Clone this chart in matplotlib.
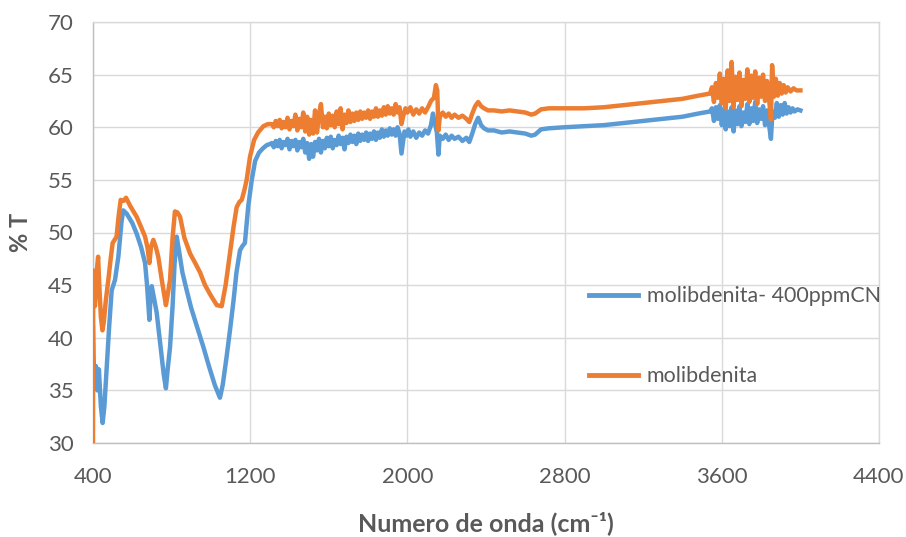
import matplotlib
matplotlib.use("Agg")
import matplotlib.pyplot as plt

# ---------------- data ----------------
blue_label = "molibdenita- 400ppmCN"
orange_label = "molibdenita"

blue_x = [400, 403, 408, 415, 422, 430, 440, 449, 458, 470, 482, 495, 512, 529, 545, 554, 571, 600, 622, 645,
          665, 675, 682, 687, 693, 699, 710, 724, 745, 760, 771, 780, 792, 805, 815, 826, 840, 855, 877, 900,
          930, 962, 990, 1020, 1046, 1060, 1080, 1097, 1115, 1130, 1148, 1160, 1173, 1190, 1208, 1225, 1245, 1265, 1284, 1300,
          1310, 1320, 1330, 1340, 1350, 1360, 1370, 1380, 1390, 1400, 1410, 1420, 1430, 1440, 1450, 1460, 1470, 1480, 1490, 1500,
          1510, 1520, 1530, 1540, 1550, 1560, 1570, 1580, 1590, 1600, 1610, 1620, 1630, 1640, 1650, 1660, 1670, 1680, 1690, 1700,
          1710, 1720, 1730, 1740, 1750, 1760, 1770, 1780, 1790, 1800, 1810, 1820, 1830, 1840, 1850, 1860, 1870, 1880, 1890, 1900,
          1910, 1920, 1930, 1940, 1950, 1960, 1970, 1975, 1985, 1995, 2005, 2015, 2030, 2045, 2060, 2075, 2090, 2105, 2120, 2130,
          2140, 2150, 2158, 2165, 2180, 2195, 2210, 2225, 2240, 2260, 2280, 2300, 2315, 2330, 2345, 2360, 2375, 2390, 2410, 2440,
          2480, 2520, 2560, 2600, 2630, 2650, 2680, 2720, 2800, 2900, 3000, 3100, 3200, 3300, 3400, 3480, 3540,
          3550, 3560, 3570, 3580, 3590, 3600, 3610, 3620, 3630, 3640, 3650, 3660, 3670, 3680, 3690, 3700, 3710, 3720, 3730, 3740,
          3750, 3760, 3770, 3780, 3790, 3800, 3810, 3820, 3830, 3840, 3850, 3858, 3870, 3880, 3890, 3900, 3910, 3920, 3930, 3940,
          3950, 3960, 3970, 3985, 4000]
blue_y = [41.0, 38.0, 36.0, 37.3, 35.0, 37.0, 33.5, 31.9, 33.5, 37.2, 41.0, 44.5, 45.5, 47.7, 51.0, 52.1, 51.8, 50.9, 49.9, 48.6,
          47.1, 45.0, 43.0, 41.7, 44.0, 44.9, 43.8, 42.4, 39.0, 36.5, 35.2, 37.0, 39.1, 43.0, 47.0, 49.6, 48.0, 46.2, 44.5, 42.8,
          41.0, 39.1, 37.3, 35.5, 34.3, 35.5, 38.2, 40.7, 43.5, 46.2, 48.3, 48.7, 49.0, 52.5, 55.0, 56.8, 57.6, 58.0, 58.3, 58.4,
          58.5, 58.1, 58.7, 58.2, 58.8, 58.0, 58.6, 58.3, 58.9, 57.9, 58.7, 58.2, 58.8, 57.8, 58.6, 58.1, 58.9, 57.6, 58.5, 57.0,
          58.4, 57.2, 58.6, 57.8, 58.9, 57.6, 58.7, 58.0, 59.0, 58.2, 59.1, 58.0, 58.8, 58.3, 59.2, 58.4, 59.0, 57.9, 59.1, 58.5,
          59.3, 58.6, 59.2, 58.4, 59.4, 58.7, 59.3, 58.8, 59.5, 58.7, 59.4, 58.9, 59.6, 58.8, 59.5, 59.0, 59.8, 59.1, 59.7, 59.2,
          59.9, 59.3, 59.8, 59.2, 60.0, 59.4, 57.5, 58.2, 59.6, 59.2, 59.8, 59.1, 59.6, 59.0, 59.5, 59.2, 59.7, 59.4, 60.2, 61.3,
          60.4, 59.5, 57.4, 59.2, 58.9, 59.3, 58.8, 59.2, 58.9, 59.1, 58.7, 59.0, 58.6, 59.4, 60.3, 60.9, 60.2, 59.9, 59.7, 59.7,
          59.5, 59.6, 59.5, 59.4, 59.2, 59.3, 59.8, 59.9, 60.0, 60.1, 60.2, 60.4, 60.6, 60.8, 61.0, 61.3, 61.5,
          61.8, 60.6, 61.9, 60.8, 62.1, 60.2, 61.7, 59.8, 61.5, 60.1, 61.9, 59.6, 61.6, 60.3, 62.0, 60.1, 61.4, 60.5, 62.2, 60.3,
          61.8, 60.6, 62.4, 60.4, 61.7, 60.8, 62.0, 60.2, 61.6, 60.3, 58.9, 61.5, 60.9, 62.3, 61.0, 62.1, 61.2, 62.3, 61.3, 61.9,
          61.4, 61.8, 61.5, 61.7, 61.6]

orange_x = [400, 401, 405, 410, 415, 420, 426, 432, 440, 448, 455, 465, 478, 490, 500, 510, 520, 530, 541, 555,
            568, 590, 622, 645, 665, 678, 687, 695, 707, 720, 732, 750, 771, 782, 792, 805, 817, 830, 843, 865,
            894, 920, 945, 970, 1000, 1030, 1055, 1075, 1097, 1115, 1131, 1145, 1157, 1170, 1182, 1199, 1220, 1240, 1267, 1290,
            1310, 1320, 1330, 1340, 1350, 1360, 1370, 1380, 1390, 1400, 1410, 1420, 1430, 1440, 1450, 1460, 1470, 1480, 1490, 1500,
            1510, 1520, 1530, 1540, 1550, 1560, 1570, 1580, 1590, 1600, 1610, 1620, 1630, 1640, 1650, 1660, 1670, 1680, 1690, 1700,
            1710, 1720, 1730, 1740, 1750, 1760, 1770, 1780, 1790, 1800, 1810, 1820, 1830, 1840, 1850, 1860, 1870, 1880, 1890, 1900,
            1910, 1920, 1930, 1940, 1950, 1960, 1970, 1978, 1990, 2000, 2015, 2030, 2045, 2060, 2075, 2090, 2105, 2120, 2135, 2145,
            2152, 2158, 2165, 2180, 2195, 2210, 2225, 2240, 2260, 2280, 2300, 2315, 2330, 2345, 2360, 2375, 2390, 2410, 2440, 2480,
            2520, 2560, 2600, 2630, 2650, 2680, 2720, 2800, 2900, 3000, 3100, 3200, 3300, 3400, 3480, 3540,
            3550, 3560, 3570, 3580, 3590, 3600, 3610, 3620, 3630, 3640, 3650, 3660, 3670, 3680, 3690, 3700, 3710, 3720, 3730, 3740,
            3750, 3760, 3770, 3780, 3790, 3800, 3810, 3820, 3830, 3840, 3850, 3856, 3865, 3875, 3885, 3895, 3905, 3915, 3925, 3935,
            3950, 3965, 3980, 4000]
orange_y = [30.0, 46.4, 44.0, 43.0, 44.5, 46.5, 47.7, 45.0, 42.0, 40.7, 41.5, 43.5, 45.5, 47.5, 49.0, 49.3, 49.6, 51.5, 53.1, 53.0,
            53.3, 52.5, 51.5, 50.5, 49.6, 48.5, 47.1, 48.6, 49.3, 48.6, 47.7, 45.5, 43.1, 44.3, 45.5, 49.5, 52.0, 51.9, 51.5, 49.5,
            48.0, 47.1, 46.2, 45.0, 44.0, 43.1, 43.0, 45.0, 48.0, 50.5, 52.4, 52.9, 53.1, 54.0, 55.0, 57.2, 58.8, 59.5, 60.1, 60.3,
            60.3, 60.0, 60.6, 60.1, 60.7, 59.9, 60.5, 60.0, 60.9, 59.8, 60.6, 60.1, 61.2, 59.7, 60.8, 60.0, 61.4, 59.6, 61.0, 59.3,
            60.7, 59.4, 61.6, 59.5, 61.2, 62.2, 60.0, 61.0, 59.9, 61.3, 60.2, 61.1, 60.0, 61.5, 60.3, 61.8, 59.8, 61.2, 60.4, 61.6,
            60.5, 61.3, 60.6, 61.4, 60.7, 61.5, 60.8, 61.4, 60.9, 61.6, 60.8, 61.5, 61.0, 61.8, 61.0, 61.6, 61.1, 61.9, 61.2, 62.0,
            61.3, 61.8, 61.2, 62.2, 61.4, 61.9, 60.3, 61.0, 61.8, 61.4, 61.9, 61.2, 61.7, 61.3, 61.8, 61.4, 61.9, 62.5, 62.8, 64.0,
            63.5, 59.7, 61.0, 61.4, 61.0, 61.3, 60.9, 61.2, 60.9, 61.1, 60.8, 60.5, 61.3, 62.0, 62.4, 62.0, 61.8, 61.6, 61.6, 61.5,
            61.6, 61.5, 61.4, 61.2, 61.3, 61.7, 61.8, 61.8, 61.8, 61.9, 62.1, 62.3, 62.5, 62.7, 63.0, 63.2,
            63.8, 62.4, 64.2, 62.8, 65.1, 62.3, 64.6, 61.8, 65.4, 62.5, 66.2, 61.9, 64.8, 62.6, 65.2, 62.0, 64.5, 62.7, 65.5, 62.4,
            64.9, 62.8, 65.3, 62.2, 64.7, 62.9, 65.0, 62.5, 64.4, 62.8, 60.7, 65.9, 62.9, 64.6, 63.0, 64.2, 63.2, 64.0, 63.3, 63.8,
            63.4, 63.7, 63.5, 63.5]

x_ticks = [400, 1200, 2000, 2800, 3600, 4400]
y_ticks = [30, 35, 40, 45, 50, 55, 60, 65, 70]
x_label = "Numero de onda (cm⁻¹)"
y_label = "% T"

# ---------------- plot ----------------
plt.rcParams['font.family'] = ['Lato', 'DejaVu Sans']

fig = plt.figure(figsize=(9.06, 5.37), dpi=100)
ax = fig.add_axes([93/906, 1-443/537, (879-93)/906, (443-22)/537])

blue = '#5B9BD5'
orange = '#ED7D31'
ax.plot(blue_x, blue_y, color=blue, lw=3.2, label=blue_label, solid_joinstyle='round', zorder=3)
ax.plot(orange_x, orange_y, color=orange, lw=3.2, label=orange_label, solid_joinstyle='round', zorder=3)

ax.set_xlim(400, 4400)
ax.set_ylim(30, 70)
ax.set_xticks(x_ticks)
ax.set_yticks(y_ticks)
ax.grid(True, color='#D9D9D9', lw=1.0, zorder=0)
ax.set_axisbelow(True)
for s in ['top', 'right']:
    ax.spines[s].set_color('#D9D9D9')
for s in ['left', 'bottom']:
    ax.spines[s].set_color('#BFBFBF')
for s in ax.spines.values():
    s.set_linewidth(1.0)
ax.tick_params(length=0, labelsize=16, labelcolor='#595959')
ax.tick_params(axis='x', pad=17)
ax.tick_params(axis='y', pad=14)

fig.text(486/906, 1-523/537, x_label, fontsize=18, fontweight='bold', color='#595959',
         ha='center', va='center', family=['Lato', 'DejaVu Sans'])
fig.text(21/906, 1-232/537, y_label, fontsize=17, fontweight='bold', color='#595959',
         ha='center', va='center', rotation=90)

leg = ax.legend(loc='upper left', bbox_to_anchor=(0.62, 0.393), frameon=False, fontsize=15.4,
                handlelength=2.3, handletextpad=0.4, labelspacing=2.8, borderaxespad=0)
for t in leg.get_texts():
    t.set_color('#595959')
for l in leg.get_lines():
    l.set_linewidth(3.5)

fig.savefig('out.png', dpi=100)
